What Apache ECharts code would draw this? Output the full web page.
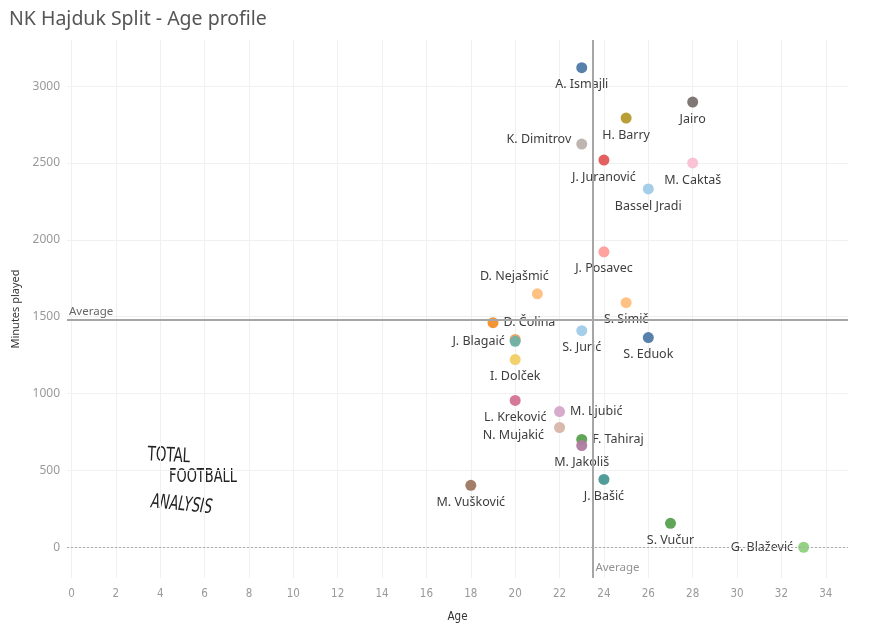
<!DOCTYPE html>
<html>
<head>
<meta charset="utf-8">
<script src="https://cdn.jsdelivr.net/npm/echarts@6/dist/echarts.min.js"></script>
<style>html,body{margin:0;padding:0;background:#fff}#c{width:881px;height:631px}</style>
</head>
<body>
<div id="c"></div>
<script>
const players = ['A. Ismajli','Jairo','H. Barry','K. Dimitrov','J. Juranović','M. Caktaš','Bassel Jradi','J. Posavec','D. Nejašmić','S. Simič','D. Čolina','S. Jurić','S. Eduok','','J. Blagaić','I. Dolček','L. Kreković','M. Ljubić','N. Mujakić','F. Tahiraj','M. Jakoliš','J. Bašić','M. Vušković','S. Vučur','G. Blažević'];
const ages = [23,28,25,23,24,28,26,24,21,25,19,23,26,20,20,20,20,22,22,23,23,24,18,27,33];
const minutes = [3120,2896,2792,2623,2519,2500,2331,1922,1649,1591,1461,1409,1364,1352,1340,1221,955,883,779,701,662,441,403,156,0];
const xTicks = [0,2,4,6,8,10,12,14,16,18,20,22,24,26,28,30,32,34];
const yTicks = [0,500,1000,1500,2000,2500,3000];

// styles (kept apart from data)
const palette = ['#4e79a7','#79706e','#b6992d','#bab0ac','#e15759','#fabfd2','#a0cbe8','#ff9d9a','#ffbe7d','#ffbe7d','#f28e2b','#a0cbe8','#4e79a7','#e8a25a','#6fb0a8','#f1ce63','#d37295','#d4a6c8','#d7b5a6','#59a14f','#b07aa1','#499894','#9d7660','#59a14f','#8cd17d'];
const labelPlacement = {
  'K. Dimitrov': {position:'left', offset:[0,-5]},
  'D. Nejašmić': {position:'top', offset:[-23,0]},
  'D. Čolina': {position:'right'},
  'J. Blagaić': {position:'left'},
  'M. Ljubić': {position:'right'},
  'N. Mujakić': {position:'left', offset:[-5,8]},
  'F. Tahiraj': {position:'right'},
  'G. Blažević': {position:'left'}
};

const avgAge = ages.reduce((a,b)=>a+b,0)/ages.length;

const pts = players.map((p,i)=>{
  const pl = labelPlacement[p] || {position:'bottom'};
  return {
    name: p,
    value: [ages[i], minutes[i]],
    itemStyle: {color: palette[i]},
    label: Object.assign({show: p !== ''}, pl)
  };
});

const chart = echarts.init(document.getElementById('c'));
chart.setOption({
  animation: false,
  backgroundColor: '#fff',
  title: {
    text: 'NK Hajduk Split - Age profile',
    left: 4, top: 4,
    textStyle: {fontFamily: 'Noto Sans', fontSize: 19.5, fontWeight: 'normal', color: '#555'}
  },
  grid: {left: 67, right: 33, top: 40, bottom: 53},
  xAxis: {
    type: 'value', min: -0.2, max: 35,
    name: 'Age', nameLocation: 'middle', nameGap: 33,
    nameTextStyle: {fontFamily: 'DejaVu Sans Condensed', fontSize: 11.5, color: '#333'},
    axisLine: {show: false}, axisTick: {show: false, customValues: xTicks},
    axisLabel: {customValues: xTicks, color: '#999', fontSize: 11.5, fontFamily: 'DejaVu Sans Condensed', margin: 10},
    splitLine: {show: true, lineStyle: {color: '#f0f0f0', width: 1}}
  },
  yAxis: {
    type: 'value', min: -200, max: 3300,
    name: 'Minutes played', nameLocation: 'middle', nameGap: 42,
    nameTextStyle: {fontFamily: 'Noto Sans', fontSize: 11, color: '#333'},
    axisLine: {show: false}, axisTick: {show: false, customValues: yTicks},
    axisLabel: {customValues: yTicks, formatter: v => String(v), color: '#999', fontSize: 12, fontFamily: 'Noto Sans', margin: 7},
    splitLine: {show: true, lineStyle: {color: '#f0f0f0', width: 1}}
  },
  graphic: [
    {type:'text', left:147, top:445, rotation:-0.05, style:{text:'TOTAL', fontFamily:'DejaVu Sans Condensed', fontSize:20, fill:'#222'}, scaleX:0.75},
    {type:'text', left:169, top:467, style:{text:'FOOTBALL', fontFamily:'DejaVu Sans Condensed', fontSize:20, fill:'#222'}, scaleX:0.72},
    {type:'text', left:150, top:492, rotation:-0.1, style:{text:'ANALYSIS', fontFamily:'DejaVu Sans Condensed', fontSize:20, fill:'#222', fontStyle:'italic'}, scaleX:0.72}
  ],
  series: [
    {
      type: 'scatter',
      symbolSize: 11,
      data: pts,
      itemStyle: {opacity: 0.95},
      label: {
        formatter: '{b}', color: '#333', fontSize: 12.5, fontFamily: 'Noto Sans', distance: 5
      },
      markLine: {
        silent: true, symbol: 'none',
        data: [
          {yAxis: 0, lineStyle: {color: '#aaa', type: [2,2], width: 1}, label: {show: false}},
          {type: 'average', valueIndex: 1, lineStyle: {color: '#a6a6a6', type: 'solid', width: 2},
           label: {show: true, formatter: 'Average', position: 'insideStartTop', color: '#666', fontSize: 11.5, fontFamily: 'Noto Sans', distance: 2}},
          {type: 'average', valueIndex: 0, lineStyle: {color: '#a6a6a6', type: 'solid', width: 2}, label: {show: false}}
        ]
      }
    },
    {
      type: 'scatter', symbolSize: 0, silent: true,
      data: [{value: [avgAge, -200]}],
      label: {show: true, formatter: 'Average', position: 'right', distance: 3, offset: [0, -10], color: '#777', fontSize: 11.5, fontFamily: 'Noto Sans'}
    }
  ]
});
</script>
</body>
</html>
